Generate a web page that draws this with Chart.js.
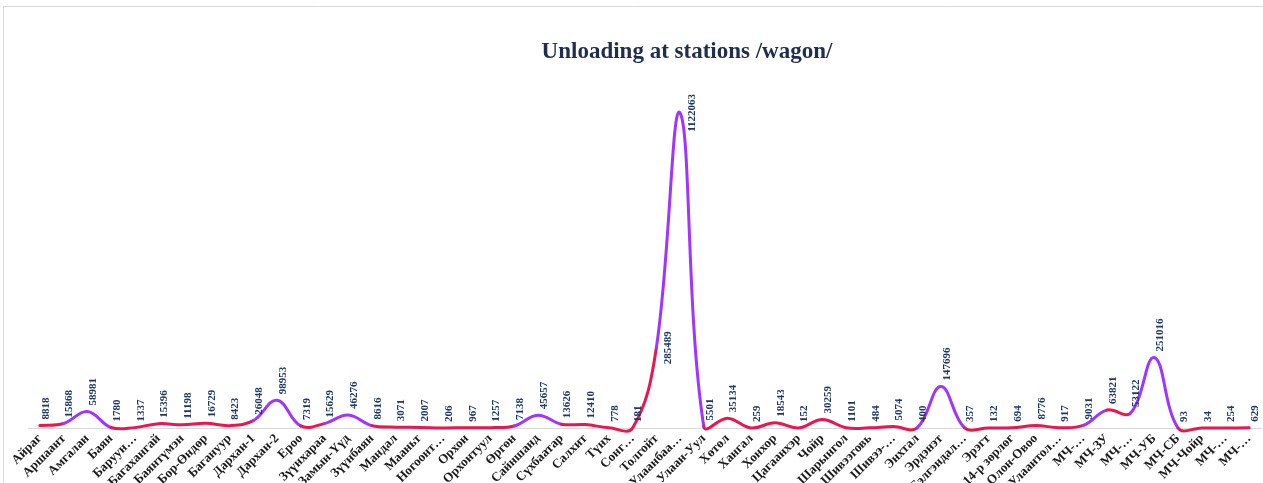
<!DOCTYPE html>
<html>
<head>
<meta charset="utf-8">
<script src="https://cdn.jsdelivr.net/npm/chart.js@4.4.1/dist/chart.umd.min.js"></script>
<style>
  html, body { margin: 0; padding: 0; background: #ffffff; overflow: hidden; }
  #wrap { position: relative; width: 1263px; height: 510px; }
</style>
</head>
<body>
<div id="wrap"><canvas id="c" width="1263" height="510"></canvas></div>
<script>
// ---- data ----
const chartTitle = 'Unloading at stations /wagon/';
const stations = [
  'Айраг', 'Аршаант', 'Амгалан', 'Баян', 'Баруун…', 'Багахангай', 'Баянтүмэн', 'Бор-Өндөр',
  'Багануур', 'Дархан-1', 'Дархан-2', 'Ероо', 'Зүүнхараа', 'Замын-Үүд', 'Зүүнбаян', 'Мандал',
  'Мааньт', 'Ногоонт…', 'Орхон', 'Орхонтуул', 'Өргөн', 'Сайншанд', 'Сүхбаатар', 'Салхит',
  'Түнх', 'Сонг…', 'Толгойт', 'Улаанбаа…', 'Улаан-Уул', 'Хөтөл', 'Хангал', 'Хонхор',
  'Цагаанхэр', 'Чойр', 'Шарынгол', 'Шивээговь', 'Шивээ-…', 'Энхтал', 'Эрдэнэт', 'Бэлгэндал…',
  'Эрэгт', '14-р зөрлөг', 'Олон-Овоо', 'Улаантол…', 'МЧ-…', 'МЧ-ЗУ', 'МЧ-…', 'МЧ-УБ',
  'МЧ-СБ', 'МЧ-Чойр', 'МЧ-…', 'МЧ-…'
];
const unloading = [
  8818, 15868, 58981, 1780, 1337, 15396, 11198, 16729,
  8423, 26048, 98953, 7319, 15629, 46276, 8616, 3071,
  2007, 206, 967, 1257, 7138, 45657, 13626, 12410,
  778, 181, 285489, 1122063, 5501, 35134, 259, 18543,
  152, 30259, 1101, 484, 5074, 400, 147696, 357,
  132, 694, 8776, 917, 9031, 63821, 53122, 251016,
  93, 34, 254, 629
];
// segments (by starting index) drawn in the highlight colour
const highlightSegments = [1, 2, 9, 10, 12, 13, 20, 21, 26, 27, 37, 38, 44, 46, 47];

// ---- style ----
const RED = '#e8174f';
const PURPLE = '#a035ff';
const LABEL_COLOR = '#1f3864';
const SERIF = '"Liberation Serif", "Times New Roman", serif';
const hiSet = new Set(highlightSegments);

const framePlugin = {
  id: 'frame',
  beforeDraw(chart) {
    const ctx = chart.ctx;
    ctx.save();
    ctx.fillStyle = '#ffffff';
    ctx.fillRect(0, 0, chart.width, chart.height);
    ctx.strokeStyle = '#d9d9d9';
    ctx.lineWidth = 1;
    ctx.beginPath();
    ctx.moveTo(3.5, chart.height + 5);
    ctx.lineTo(3.5, 6.5);
    ctx.lineTo(chart.width + 5, 6.5);
    ctx.stroke();
    ctx.restore();
  }
};

const titlePlugin = {
  id: 'customTitle',
  afterDraw(chart) {
    const ctx = chart.ctx;
    ctx.save();
    ctx.font = 'bold 23px ' + SERIF;
    ctx.fillStyle = '#1f2d4f';
    ctx.textAlign = 'center';
    ctx.textBaseline = 'middle';
    ctx.fillText(chartTitle, 687, 52);
    ctx.restore();
  }
};

const valueLabels = {
  id: 'valueLabels',
  afterDatasetsDraw(chart) {
    const ctx = chart.ctx;
    const meta = chart.getDatasetMeta(0);
    ctx.save();
    ctx.font = 'bold 11px ' + SERIF;
    ctx.fillStyle = LABEL_COLOR;
    ctx.textBaseline = 'middle';
    meta.data.forEach((pt, i) => {
      const v = unloading[i];
      ctx.save();
      if (v > 260000) {
        ctx.translate(pt.x + 12, pt.y);
        ctx.rotate(-Math.PI / 2);
        ctx.textAlign = 'center';
      } else {
        ctx.translate(pt.x + 6, pt.y - 6);
        ctx.rotate(-Math.PI / 2);
        ctx.textAlign = 'left';
      }
      ctx.fillText(String(v), 0, 0);
      ctx.restore();
    });
    ctx.restore();
  }
};

new Chart(document.getElementById('c'), {
  type: 'line',
  data: {
    labels: stations,
    datasets: [{
      label: 'Unloading',
      data: unloading,
      borderWidth: 3,
      borderColor: RED,
      tension: 0.4,
      capBezierPoints: false,
      pointRadius: 0,
      pointHoverRadius: 0,
      fill: false,
      clip: false,
      borderCapStyle: 'round',
      borderJoinStyle: 'round',
      segment: {
        borderColor: c => hiSet.has(c.p0DataIndex) ? PURPLE : RED
      }
    }]
  },
  options: {
    responsive: false,
    animation: false,
    events: [],
    layout: { padding: { top: 91, left: 28, right: 2, bottom: 0 } },
    plugins: {
      legend: { display: false },
      title: { display: false },
      tooltip: { enabled: false }
    },
    scales: {
      x: {
        offset: true,
        grid: { display: false, drawTicks: false },
        border: { display: true, color: '#d9d9d9', width: 1 },
        ticks: {
          autoSkip: false,
          maxRotation: 45,
          minRotation: 45,
          padding: 3,
          color: '#1a1a1a',
          font: { family: SERIF, size: 13, weight: 'bold' }
        },
        afterFit(scale) { scale.height = 82; scale.paddingLeft = 0; scale.paddingRight = 0; }
      },
      y: {
        display: false,
        min: 0,
        max: 1200000
      }
    }
  },
  plugins: [framePlugin, valueLabels, titlePlugin]
});
</script>
</body>
</html>
